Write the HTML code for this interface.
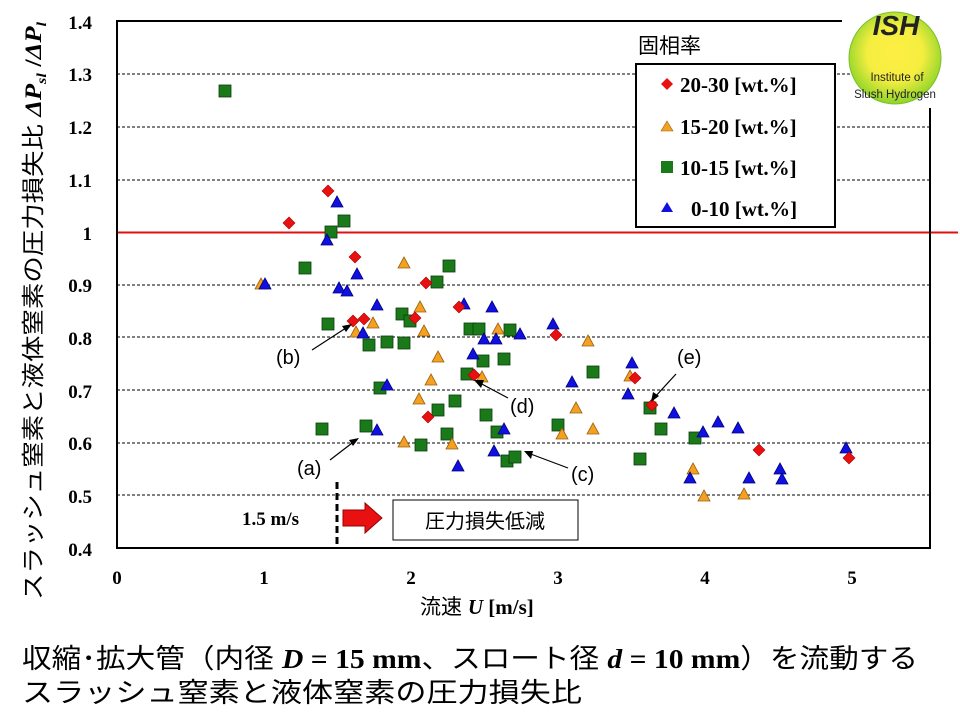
<!DOCTYPE html><html><head><meta charset="utf-8"><style>body{margin:0;background:#fff}svg{display:block}</style></head><body>
<svg width="960" height="720" xmlns="http://www.w3.org/2000/svg" font-family="Liberation Serif, serif">
<defs>
<radialGradient id="lg" cx="50%" cy="45%" r="55%"><stop offset="0" stop-color="#ffee44"/><stop offset="0.55" stop-color="#f4ee40"/><stop offset="1" stop-color="#8fd42a"/></radialGradient>
<polygon id="t" points="0,-6 6,5 -6,5"/>
<polygon id="d" points="0,-6 6,0 0,6 -6,0"/>
<rect id="s" x="-6" y="-6" width="12" height="12"/>
</defs>
<g stroke="#000" stroke-width="1" stroke-dasharray="3,2">
<line x1="117" y1="74" x2="930" y2="74"/><line x1="117" y1="127" x2="930" y2="127"/><line x1="117" y1="180" x2="930" y2="180"/>
<line x1="117" y1="285" x2="930" y2="285"/><line x1="117" y1="337" x2="930" y2="337"/><line x1="117" y1="390" x2="930" y2="390"/>
<line x1="117" y1="443" x2="930" y2="443"/><line x1="117" y1="495" x2="930" y2="495"/></g>
<line x1="117" y1="232.5" x2="958" y2="232.5" stroke="#e01010" stroke-width="2"/>
<path d="M842 21H117V548H930V108" fill="none" stroke="#000" stroke-width="2"/>
<g font-size="19" font-weight="bold" text-anchor="end">
<text x="92" y="29">1.4</text><text x="92" y="81">1.3</text><text x="92" y="134">1.2</text><text x="92" y="187">1.1</text><text x="92" y="240">1</text><text x="92" y="292">0.9</text><text x="92" y="345">0.8</text><text x="92" y="398">0.7</text><text x="92" y="450">0.6</text><text x="92" y="503">0.5</text><text x="92" y="556">0.4</text></g>
<g font-size="19" font-weight="bold" text-anchor="middle">
<text x="117" y="584">0</text><text x="264" y="584">1</text><text x="411" y="584">2</text><text x="558" y="584">3</text><text x="705" y="584">4</text><text x="852" y="584">5</text></g>
<text transform="translate(41,600) rotate(-90)" font-size="23" textLength="578" lengthAdjust="spacingAndGlyphs"><tspan font-family="Liberation Sans, Noto Sans CJK JP, sans-serif">スラッシュ窒素と液体窒素の圧力損失比  </tspan><tspan font-weight="bold" font-style="italic">ΔP</tspan><tspan font-weight="bold" font-style="italic" font-size="14" dy="5">sl</tspan><tspan font-weight="bold" dy="-5"> /</tspan><tspan font-weight="bold" font-style="italic">ΔP</tspan><tspan font-weight="bold" font-style="italic" font-size="14" dy="5">l</tspan></text>
<text x="420" y="614" font-size="21"><tspan font-family="Liberation Sans, Noto Sans CJK JP, sans-serif">流速 </tspan><tspan font-weight="bold" font-style="italic">  U</tspan><tspan font-weight="bold"> [m/s]</tspan></text>
<g font-size="27"><text x="22" y="668" textLength="896" lengthAdjust="spacingAndGlyphs"><tspan font-family="Liberation Sans, Noto Sans CJK JP, sans-serif">収縮･拡大管（内径 </tspan><tspan font-weight="bold" font-style="italic">D</tspan><tspan font-weight="bold"> = 15 mm</tspan><tspan font-family="Liberation Sans, Noto Sans CJK JP, sans-serif">、スロート径 </tspan><tspan font-weight="bold" font-style="italic">d</tspan><tspan font-weight="bold"> = 10 mm</tspan><tspan font-family="Liberation Sans, Noto Sans CJK JP, sans-serif">）を流動する</tspan></text>
<text x="22" y="702" font-family="Liberation Sans, Noto Sans CJK JP, sans-serif" textLength="560" lengthAdjust="spacingAndGlyphs">スラッシュ窒素と液体窒素の圧力損失比</text></g>
<!-- green squares -->
<g fill="#1a7a1a" stroke="#0a3a0a" stroke-width="0.8">
<use href="#s" x="225" y="91"/><use href="#s" x="344" y="221"/><use href="#s" x="331" y="232"/><use href="#s" x="305" y="268"/><use href="#s" x="449" y="266"/><use href="#s" x="437" y="282"/><use href="#s" x="328" y="324"/><use href="#s" x="402" y="314"/><use href="#s" x="410" y="321"/><use href="#s" x="369" y="345"/><use href="#s" x="387" y="342"/><use href="#s" x="404" y="343"/><use href="#s" x="470" y="329"/><use href="#s" x="479" y="329"/><use href="#s" x="510" y="330"/><use href="#s" x="483" y="361"/><use href="#s" x="504" y="359"/><use href="#s" x="467" y="374"/><use href="#s" x="380" y="388"/><use href="#s" x="366" y="426"/><use href="#s" x="322" y="429"/><use href="#s" x="438" y="410"/><use href="#s" x="455" y="401"/><use href="#s" x="447" y="434"/><use href="#s" x="421" y="445"/><use href="#s" x="486" y="415"/><use href="#s" x="497" y="432"/><use href="#s" x="558" y="425"/><use href="#s" x="507" y="461"/><use href="#s" x="515" y="457"/><use href="#s" x="593" y="372"/><use href="#s" x="650" y="408"/><use href="#s" x="661" y="429"/><use href="#s" x="695" y="438"/><use href="#s" x="640" y="459"/></g>
<!-- orange triangles -->
<g fill="#f4a020" stroke="#9a6010" stroke-width="0.8">
<use href="#t" x="261" y="284"/><use href="#t" x="404" y="263"/><use href="#t" x="420" y="307"/><use href="#t" x="373" y="323"/><use href="#t" x="356" y="332"/><use href="#t" x="424" y="331"/><use href="#t" x="438" y="357"/><use href="#t" x="431" y="380"/><use href="#t" x="419" y="399"/><use href="#t" x="404" y="442"/><use href="#t" x="452" y="444"/><use href="#t" x="482" y="377"/><use href="#t" x="498" y="329"/><use href="#t" x="588" y="341"/><use href="#t" x="576" y="408"/><use href="#t" x="593" y="429"/><use href="#t" x="562" y="434"/><use href="#t" x="630" y="376"/><use href="#t" x="693" y="469"/><use href="#t" x="704" y="496"/><use href="#t" x="744" y="494"/></g>
<!-- blue triangles -->
<g fill="#1010e0" stroke="#000080" stroke-width="0.8">
<use href="#t" x="337" y="202"/><use href="#t" x="327" y="240"/><use href="#t" x="265" y="284"/><use href="#t" x="339" y="288"/><use href="#t" x="347" y="291"/><use href="#t" x="357" y="274"/><use href="#t" x="377" y="305"/><use href="#t" x="363" y="333"/><use href="#t" x="387" y="385"/><use href="#t" x="377" y="430"/><use href="#t" x="464" y="304"/><use href="#t" x="492" y="307"/><use href="#t" x="484" y="339"/><use href="#t" x="496" y="339"/><use href="#t" x="520" y="334"/><use href="#t" x="553" y="324"/><use href="#t" x="473" y="354"/><use href="#t" x="572" y="382"/><use href="#t" x="632" y="363"/><use href="#t" x="628" y="394"/><use href="#t" x="674" y="413"/><use href="#t" x="718" y="422"/><use href="#t" x="738" y="428"/><use href="#t" x="703" y="432"/><use href="#t" x="504" y="429"/><use href="#t" x="494" y="451"/><use href="#t" x="458" y="466"/><use href="#t" x="690" y="478"/><use href="#t" x="749" y="478"/><use href="#t" x="780" y="469"/><use href="#t" x="782" y="479"/><use href="#t" x="846" y="448"/></g>
<!-- red diamonds -->
<g fill="#e81010" stroke="#a00" stroke-width="0.6">
<use href="#d" x="328" y="191"/><use href="#d" x="289" y="223"/><use href="#d" x="355" y="257"/><use href="#d" x="426" y="283"/><use href="#d" x="353" y="321"/><use href="#d" x="364" y="319"/><use href="#d" x="415" y="318"/><use href="#d" x="459" y="307"/><use href="#d" x="428" y="417"/><use href="#d" x="556" y="335"/><use href="#d" x="474" y="375"/><use href="#d" x="635" y="378"/><use href="#d" x="652" y="405"/><use href="#d" x="759" y="450"/><use href="#d" x="849" y="458"/></g>
<!-- annotations -->
<g font-family="Liberation Sans, sans-serif" font-size="20"><text x="276" y="364">(b)</text><text x="297" y="475">(a)</text><text x="510" y="413">(d)</text><text x="571" y="481">(c)</text><text x="677" y="364">(e)</text></g>
<g stroke="#000" stroke-width="1.2" fill="none">
<line x1="312" y1="350" x2="349" y2="326"/><line x1="330" y1="460" x2="356" y2="440"/><line x1="508" y1="398" x2="478" y2="382"/><line x1="568" y1="468" x2="528" y2="453"/><line x1="676" y1="374" x2="654" y2="398"/></g>
<g fill="#000"><polygon points="352,324 342,326 346,332"/><polygon points="359,438 349,440 353,446"/><polygon points="474,380 481,388 484,380"/><polygon points="524,451 531,459 533,451"/><polygon points="651,402 653,392 659,396"/></g>
<line x1="337" y1="482" x2="337" y2="548" stroke="#000" stroke-width="3" stroke-dasharray="7,4"/>
<text x="242" y="525" font-size="19" font-weight="bold">1.5 m/s</text>
<polygon points="343,510 365,510 365,503 382,518 365,533 365,526 343,526" fill="#e81010" stroke="#900" stroke-width="1"/>
<rect x="393" y="500" width="185" height="40" fill="#fff" stroke="#000" stroke-width="1"/>
<text x="485" y="528" font-size="20" text-anchor="middle" font-family="Liberation Sans, Noto Sans CJK JP, sans-serif">圧力損失低減</text>
<!-- legend -->
<text x="638" y="53" font-size="21" font-family="Liberation Sans, Noto Sans CJK JP, sans-serif">固相率</text>
<rect x="636" y="64" width="199" height="163" fill="#fff" stroke="#000" stroke-width="2"/>
<g font-size="21" font-weight="bold"><text x="680" y="92">20-30 [wt.%]</text><text x="680" y="134">15-20 [wt.%]</text><text x="680" y="175">10-15 [wt.%]</text><text x="691" y="216">0-10 [wt.%]</text></g>
<polygon points="667,78 673,84 667,90 661,84" fill="#e81010"/>
<polygon points="667,121 673,131 661,131" fill="#f4a020" stroke="#9a6010" stroke-width="0.6"/>
<rect x="661" y="161" width="12" height="12" fill="#1a7a1a"/>
<polygon points="667,202 673,212 661,212" fill="#1010e0"/>
<!-- logo -->
<circle cx="895" cy="58" r="46" fill="url(#lg)" stroke="#7bc02a" stroke-width="1"/>
<text x="896" y="35" font-family="Liberation Sans, sans-serif" font-size="28" font-weight="bold" font-style="italic" text-anchor="middle" fill="#222">ISH</text>
<text x="897" y="81" font-family="Liberation Sans, sans-serif" font-size="11.5" text-anchor="middle" fill="#222">Institute of</text>
<text x="895" y="98" font-family="Liberation Sans, sans-serif" font-size="11.5" text-anchor="middle" fill="#222">Slush Hydrogen</text>
</svg></body></html>
